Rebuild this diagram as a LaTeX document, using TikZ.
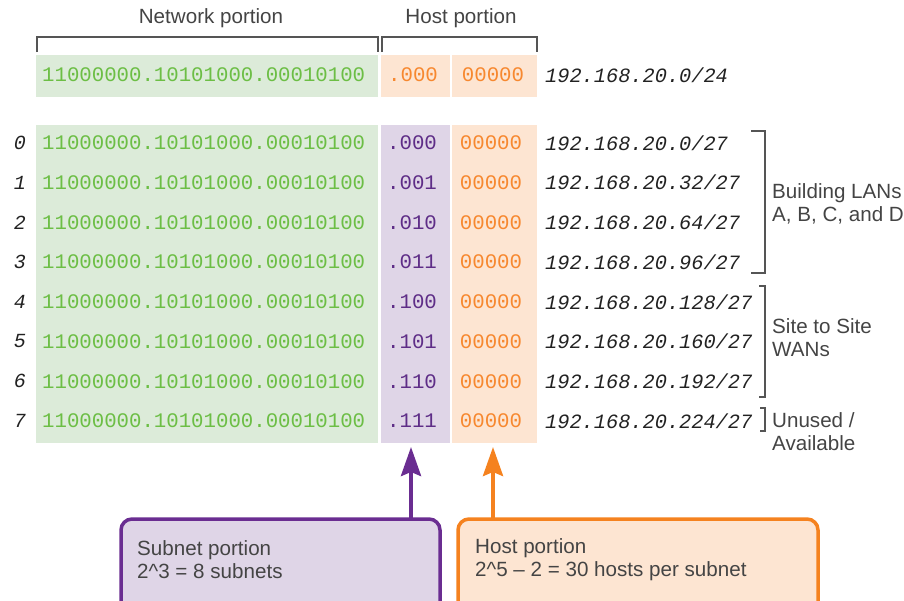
\documentclass[tikz,border=0pt]{standalone}
\usepackage{fontspec}
\setmainfont{Liberation Sans}
\setmonofont{Liberation Mono}
\usetikzlibrary{arrows.meta}
\definecolor{gfill}{HTML}{DCEBD9}
\definecolor{gtext}{HTML}{6CBE45}
\definecolor{pfill}{HTML}{DFD5E7}
\definecolor{ptext}{HTML}{5E2D87}
\definecolor{pline}{HTML}{6A2D91}
\definecolor{ofill}{HTML}{FDE5D2}
\definecolor{otext}{HTML}{F7882F}
\definecolor{oline}{HTML}{F5821F}
\definecolor{lbl}{HTML}{444444}
\definecolor{brk}{HTML}{555555}
\definecolor{iptext}{HTML}{222222}
\tikzset{
  cell/.style={inner sep=0pt, outer sep=0pt, draw=none},
  bin/.style={inner sep=0pt, font=\ttfamily\fontsize{20.7}{24}\selectfont},
  iptxt/.style={inner sep=0pt, anchor=west, text=iptext, font=\ttfamily\itshape\fontsize{20.3}{24}\selectfont},
  idx/.style={inner sep=0pt, text=iptext, font=\ttfamily\itshape\fontsize{20}{24}\selectfont},
  sans/.style={inner sep=0pt, text=lbl, font=\fontsize{20.6}{23}\selectfont},
  bracket/.style={draw=brk, line width=2pt},
  infobox/.style={rounded corners=11pt, line width=3.5pt},
  bigarrow/.style={line width=4pt, -{Stealth[length=29pt,width=20pt,inset=4pt]}},
}
\begin{document}
\begin{tikzpicture}[x=1pt,y=-1pt]
\useasboundingbox (0,0) rectangle (904,600);
\clip (0,0) rectangle (904,600);

% headers
\node[sans] (nethead) at (211,18) {Network portion};
\node[sans] (hosthead) at (461,18) {Host portion};
\draw[bracket] (37,52) -- (37,37) -- (378,37) -- (378,52);
\draw[bracket] (382,52) -- (382,37) -- (537,37) -- (537,52);

% top row
\node[cell, fill=gfill, minimum width=342pt, minimum height=42pt] (gtop) at (207,76) {};
\node[cell, fill=ofill, minimum width=69pt, minimum height=42pt] (otop1) at (415.5,76) {};
\node[cell, fill=ofill, minimum width=85pt, minimum height=42pt] (otop2) at (494.5,76) {};
\node[bin, anchor=west, text=gtext] (gtopt) at (42,75) {11000000.10101000.00010100};
\node[bin, text=otext] (otop1t) at (413,75) {.000};
\node[bin, text=otext] (otop2t) at (493,75) {00000};
\node[iptxt] (iptop) at (545,75) {192.168.20.0/24};

% big columns
\node[cell, fill=gfill, minimum width=342pt, minimum height=318pt] (gcol) at (207,284) {};
\node[cell, fill=pfill, minimum width=69pt, minimum height=318pt] (subcol) at (415.5,284) {};
\node[cell, fill=ofill, minimum width=85pt, minimum height=318pt] (hostcol) at (494.5,284) {};

\foreach \i/\sub/\ip in {0/000/0,1/001/32,2/010/64,3/011/96,4/100/128,5/101/160,6/110/192,7/111/224}{
  \pgfmathsetmacro{\yy}{143+39.7*\i}
  \node[idx] (n\i) at (20,\yy) {\i};
  \node[bin, anchor=west, text=gtext] (g\i) at (42,\yy) {11000000.10101000.00010100};
  \node[bin, text=ptext] (s\i) at (412,\yy) {.\sub};
  \node[bin, text=otext] (h\i) at (491,\yy) {00000};
  \node[iptxt] (ip\i) at (545,\yy) {192.168.20.\ip/27};
}

% right brackets
\draw[bracket] (751,131) -- (765,131) -- (765,273) -- (751,273);
\draw[bracket] (759,286) -- (765,286) -- (765,397) -- (759,397);
\draw[bracket] (760,408) -- (765,408) -- (765,431) -- (760,431);
\node[sans, anchor=west, align=left] (lans) at (772,203.5) {Building LANs\\A, B, C, and D};
\node[sans, anchor=west, align=left] (wans) at (772,338) {Site to Site\\WANs};
\node[sans, anchor=west, align=left] (unused) at (772,432) {Unused /\\Available};

% bottom boxes
\draw[infobox, draw=pline, fill=pfill] (121,519) rectangle (440,640);
\draw[infobox, draw=oline, fill=ofill] (458,519) rectangle (818,640);
\node[sans, anchor=west, align=left] (sboxt) at (137,560) {Subnet portion\\2\textasciicircum 3 = 8 subnets};
\node[sans, anchor=west, align=left] (hboxt) at (475,560) {Host portion\\2\textasciicircum 5 – 2 = 30 hosts per subnet};

% arrows
\coordinate (pbase) at (411,519);
\coordinate (obase) at (493,519);
\draw[bigarrow, draw=pline, fill=pline, shorten >=4pt] (pbase) -- (pbase |- subcol.south);
\draw[bigarrow, draw=oline, fill=oline, shorten >=4pt] (obase) -- (obase |- hostcol.south);
\end{tikzpicture}
\end{document}
